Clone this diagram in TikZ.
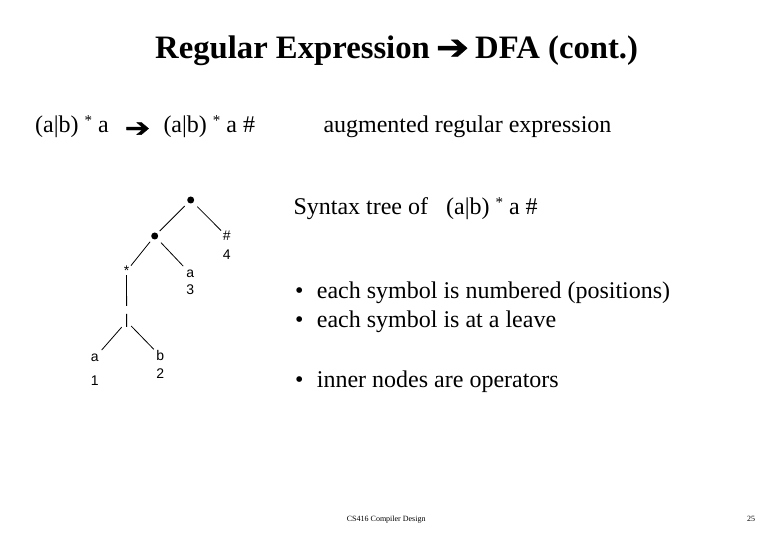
\documentclass[tikz,border=0pt]{standalone}
\usepackage{graphicx}
\usepackage{fontspec}
\setmainfont{Liberation Serif}
\newfontfamily\treefont{Liberation Sans}
\newfontfamily\symfont[FakeBold=1.5]{DejaVu Sans}
\newcommand{\supstar}{\raisebox{7pt}{\fontsize{15}{15}\selectfont *}}
\begin{document}
\begin{tikzpicture}[x=1pt,y=-1pt,
  txt/.style={anchor=base west, inner sep=0, font=\fontsize{24}{28}\selectfont},
  ttl/.style={anchor=base west, inner sep=0, font=\bfseries\fontsize{32.7}{36}\selectfont},
  arrw/.style={inner sep=0, font=\symfont},
  lab/.style={anchor=base, inner sep=0, font=\treefont\fontsize{14}{16}\selectfont},
  dotn/.style={circle, fill, inner sep=0, minimum size=7pt},
  small/.style={anchor=base west, inner sep=0, font=\fontsize{8}{9}\selectfont},
  edge/.style={line width=0.8pt}]
\useasboundingbox[fill=white] (0,0) rectangle (780,540);

% title
\node[ttl] (title1) at (155,58.5) {Regular Expression};
\node[arrw] (tarr) at (452.5,49.5) {\resizebox{33pt}{19pt}{➔}};
\node[ttl] (title2) at (475,58.5) {DFA (cont.)};

% first row
\node[txt] (re) at (35,133) {(a|b) \supstar{} a};
\node[arrw] (arr) at (137.5,129.5) {\resizebox{25pt}{14pt}{➔}};
\node[txt] (aug) at (163.3,133) {(a|b) \supstar{} a \#};
\node[txt] (augtxt) at (323.3,133) {augmented regular expression};

% right texts
\node[txt] (syn) at (293.3,215) {Syntax tree of\ \ \ (a|b) \supstar{} a \#};
\node[txt] (b1) at (295,298.3) {\makebox[21.7pt][l]{\textbullet}each symbol is numbered (positions)};
\node[txt] (b2) at (295,327.7) {\makebox[21.7pt][l]{\textbullet}each symbol is at a leave};
\node[txt] (b3) at (295,387.7) {\makebox[21.7pt][l]{\textbullet}inner nodes are operators};

% footer
\node[small] (foot) at (346.7,521.7) {CS416 Compiler Design};
\node[small] (page) at (747,521.7) {25};

% tree
\node[dotn] (r) at (190.7,200) {};
\node[dotn] (s) at (154.7,236) {};
\node[lab] (hash) at (226.7,241) {\#};
\node[lab] (n4) at (226.7,259.3) {4};
\node[lab] (star) at (126.5,276) {*};
\node[lab] (a3) at (190.3,277.3) {a};
\node[lab] (n3) at (190.3,295) {3};
\node[lab] (bar) at (126.7,325) {|};
\node[lab] (a1) at (94.7,361.7) {a};
\node[lab] (n1) at (94.7,385) {1};
\node[lab] (b) at (160.3,361) {b};
\node[lab] (n2) at (160.3,379) {2};

\draw[edge, shorten <=8.5pt, shorten >=7pt] (r.center) -- (s.center);
\draw[edge, shorten <=9.4pt, shorten >=8pt] (r.center) -- (hash.center);
\draw[edge, shorten <=7.4pt, shorten >=7.1pt] (s.center) -- (star.center);
\draw[edge, shorten <=9.1pt, shorten >=10.2pt] (s.center) -- (a3.center);
\draw[edge, shorten <=4pt, shorten >=15.6pt] (star.center) -- (bar.center);
\draw[edge, shorten <=7.6pt, shorten >=10.5pt] (bar.center) -- (a1.center);
\draw[edge, shorten <=6.4pt, shorten >=9.3pt] (bar.center) -- (b.center);
\end{tikzpicture}
\end{document}
